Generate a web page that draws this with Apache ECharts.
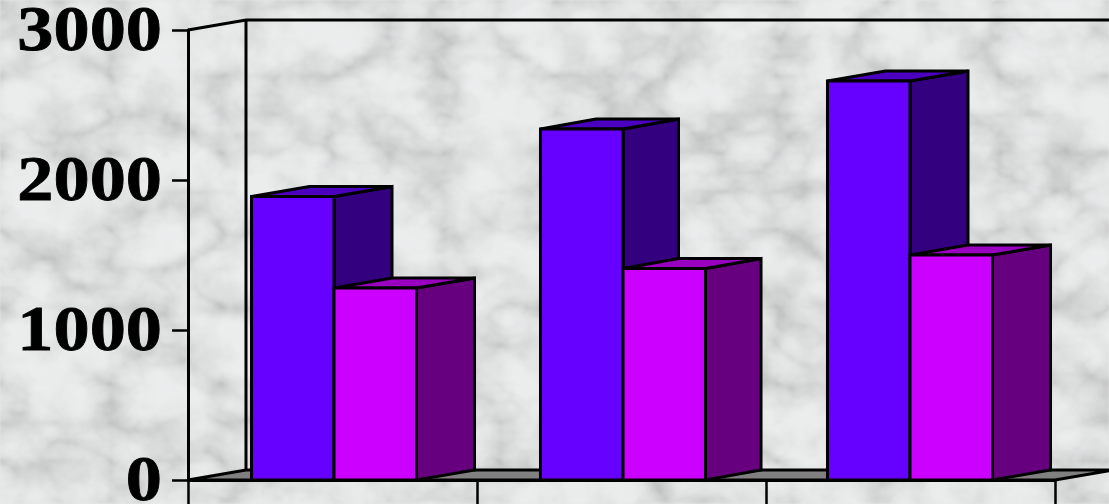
<!DOCTYPE html>
<html>
<head>
<meta charset="utf-8">
<style>
  html, body { margin: 0; padding: 0; background: #e6e8e8; }
  #stage { position: relative; width: 1109px; height: 504px; overflow: hidden; }
  #marble, #chart { position: absolute; left: 0; top: 0; width: 1109px; height: 504px; }
</style>
<script src="https://cdn.jsdelivr.net/npm/echarts@6/dist/echarts.min.js"></script>
</head>
<body>
<div id="stage">
  <!-- Marble backdrop: sparse thin veins multiplied over soft cloudy mottling -->
  <svg id="marble" xmlns="http://www.w3.org/2000/svg">
    <filter id="veins" x="0" y="0" width="100%" height="100%" color-interpolation-filters="sRGB">
      <feTurbulence type="turbulence" baseFrequency="0.009 0.013" numOctaves="5" seed="23" result="t"/>
      <feColorMatrix in="t" type="matrix" values="1 0 0 0 0  1 0 0 0 0  1 0 0 0 0  0 0 0 0 1"/>
      <feComponentTransfer result="veinLayer">
        <feFuncR type="table" tableValues="0.84 0.92 0.97 1 1 1 1 1"/>
        <feFuncG type="table" tableValues="0.84 0.92 0.97 1 1 1 1 1"/>
        <feFuncB type="table" tableValues="0.84 0.92 0.97 1 1 1 1 1"/>
      </feComponentTransfer>
      <feTurbulence type="fractalNoise" baseFrequency="0.022" numOctaves="4" seed="7" result="n"/>
      <feColorMatrix in="n" type="matrix" values="1 0 0 0 0  1 0 0 0 0  1 0 0 0 0  0 0 0 0 1"/>
      <feComponentTransfer result="cloudLayer">
        <feFuncR type="table" tableValues="0.85 0.85 0.87 0.90 0.92 0.925 0.925 0.925"/>
        <feFuncG type="table" tableValues="0.85 0.85 0.875 0.905 0.925 0.93 0.93 0.93"/>
        <feFuncB type="table" tableValues="0.85 0.85 0.875 0.905 0.925 0.932 0.932 0.932"/>
      </feComponentTransfer>
      <feBlend in="veinLayer" in2="cloudLayer" mode="multiply"/>
      <feGaussianBlur stdDeviation="1"/>
    </filter>
    <rect width="1109" height="504" filter="url(#veins)"/>
  </svg>
  <div id="chart"></div>
</div>
<script>
const categories = ['Group 1', 'Group 2', 'Group 3'];
const frontValues = [1890, 2340, 2660];
const rearValues = [1280, 1410, 1500];
const tickValues = [0, 1000, 2000, 3000];
const tickLabels = ['0', '1000', '2000', '3000'];

const chart = echarts.init(document.getElementById('chart'), null, { renderer: 'canvas' });

// Oblique depth of the box: the receding edges narrow slightly around the middle group
const DEPTH_X = 58;
const DEPTH_Y = -10;
const GROUP_DEPTH_X = [58, 55.5, 58];
const EDGE = 3;
const BAR_SHARE = 0.2855;
const GROUP_SHIFT = [1.5, 1.5, -0.5];

function face(points, fill) {
  return {
    type: 'polygon',
    shape: { points },
    style: { fill, stroke: '#000', lineWidth: EDGE, lineJoin: 'miter' }
  };
}

// Draws one extruded column: side, top, then front face
function boxRenderer(slot, colors) {
  return function (params, api) {
    const base = api.coord([api.value(0), 0]);
    const top = api.coord([api.value(0), api.value(1)]);
    const w = api.size([1, 0])[0] * BAR_SHARE;
    const dx = GROUP_DEPTH_X[params.dataIndex];
    const l = base[0] + GROUP_SHIFT[params.dataIndex] + (slot - 1) * w;
    const r = l + w;
    const y0 = base[1];
    const y1 = top[1];
    return {
      type: 'group',
      children: [
        face([[r, y1], [r + dx, y1 + DEPTH_Y], [r + dx, y0 + DEPTH_Y], [r, y0]], colors.side),
        face([[l, y1], [r, y1], [r + dx, y1 + DEPTH_Y], [l + dx, y1 + DEPTH_Y]], colors.top),
        face([[l, y1], [r, y1], [r, y0], [l, y0]], colors.front)
      ]
    };
  };
}

// Back wall outline and grey floor of the chart box
function frameRenderer(params) {
  const g = params.coordSys;
  const left = g.x, right = g.x + g.width, topY = g.y, floorY = g.y + g.height;
  const backX = left + DEPTH_X, farX = right + DEPTH_X;
  const line = { fill: null, stroke: '#000', lineWidth: EDGE };
  return {
    type: 'group',
    children: [
      face([[left, floorY], [backX, floorY + DEPTH_Y], [farX, floorY + DEPTH_Y], [right, floorY]], '#808080'),
      {
        type: 'polyline',
        shape: { points: [[left, topY], [backX, topY + DEPTH_Y], [farX, topY + DEPTH_Y]] },
        style: line
      },
      {
        type: 'polyline',
        shape: { points: [[backX, topY + DEPTH_Y], [backX, floorY + DEPTH_Y]] },
        style: line
      }
    ]
  };
}

// Value labels are set in a widened bold serif, so they are placed as scaled text
function labelRenderer(params, api) {
  const p = api.coord([0, api.value(0)]);
  return {
    type: 'text',
    x: 162,
    y: p[1] + 3,
    scaleX: 1.13,
    style: {
      text: tickLabels[params.dataIndex],
      fontFamily: 'Liberation Serif',
      fontWeight: 'bold',
      fontSize: 64,
      textAlign: 'right',
      textVerticalAlign: 'middle',
      fill: '#000',
      stroke: '#000',
      lineWidth: 0.8
    }
  };
}

chart.setOption({
  animation: false,
  backgroundColor: 'transparent',
  grid: { left: 188, top: 30, width: 867, height: 450 },
  xAxis: {
    type: 'category',
    data: categories,
    boundaryGap: true,
    axisLabel: { show: false },
    axisLine: { show: true, lineStyle: { color: '#000', width: 3 } },
    axisTick: { show: true, length: 26, lineStyle: { color: '#000', width: 2.5 } },
    splitLine: { show: false }
  },
  yAxis: {
    type: 'value',
    min: 0,
    max: 3000,
    interval: 1000,
    axisLabel: { show: false },
    axisLine: { show: true, lineStyle: { color: '#000', width: 3 } },
    axisTick: { show: true, length: 16, lineStyle: { color: '#000', width: 2.5 } },
    splitLine: { show: false }
  },
  series: [
    { type: 'custom', name: 'Frame', silent: true, data: [0], renderItem: frameRenderer, z: 1 },
    {
      type: 'custom', name: 'Front', silent: true, z: 2,
      data: frontValues.map((v, i) => [i, v]),
      encode: { x: 0, y: 1 },
      renderItem: boxRenderer(0, { front: '#6600ff', side: '#33007f', top: '#4c00bf' })
    },
    {
      type: 'custom', name: 'Rear', silent: true, z: 3,
      data: rearValues.map((v, i) => [i, v]),
      encode: { x: 0, y: 1 },
      renderItem: boxRenderer(1, { front: '#cc00ff', side: '#66007f', top: '#9900bf' })
    },
    {
      type: 'custom', name: 'Labels', silent: true, z: 4,
      data: tickValues.map(v => [v]),
      encode: { y: 0 },
      renderItem: labelRenderer
    }
  ]
});
</script>
</body>
</html>
